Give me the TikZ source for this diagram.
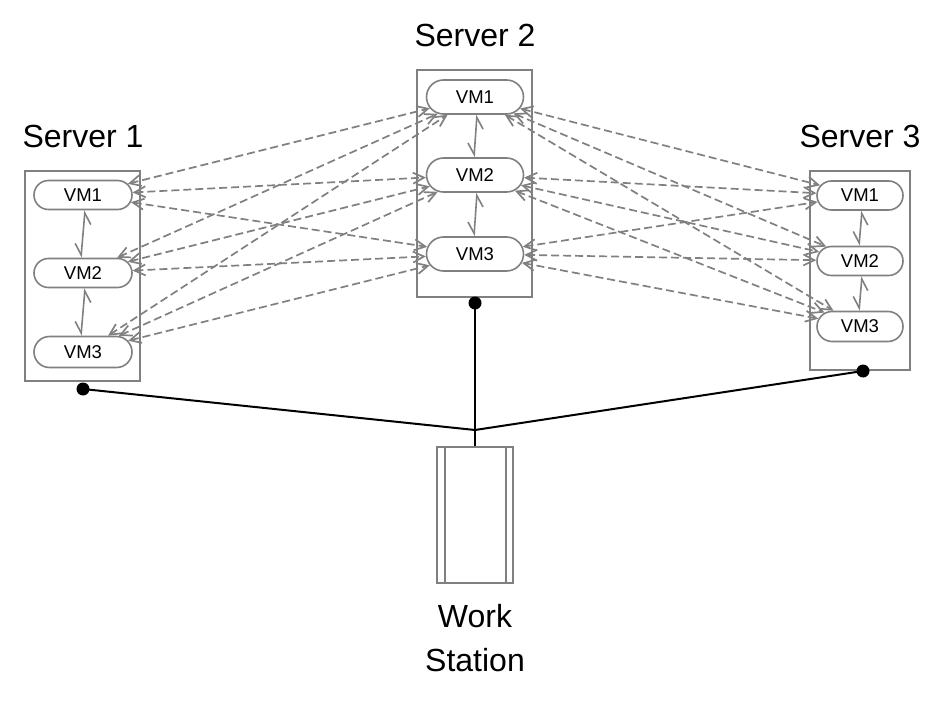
\documentclass[tikz,border=0pt]{standalone}
\usepackage{fontspec}
\setmainfont{Liberation Sans}
\usetikzlibrary{shapes.misc,arrows.meta,calc}
\definecolor{lgray}{HTML}{808080}
\tikzset{
  srv/.style={draw=lgray,line width=2pt,rectangle,inner sep=0pt},
  vm/.style={draw=lgray,line width=1.6pt,rounded rectangle,inner sep=0pt,font=\fontsize{18.5}{22}\selectfont},
  title/.style={font=\fontsize{32}{36}\selectfont,inner sep=0pt},
  link/.style={draw=lgray,line width=1.7pt,dash pattern=on 8pt off 4pt,
     {Straight Barb[length=11pt,width=11pt]}-{Straight Barb[length=11pt,width=11pt]}},
  inner/.style={draw=lgray,line width=1.6pt,
     {Straight Barb[harpoon,swap,length=11pt,width=14pt]}-{Straight Barb[harpoon,swap,length=11pt,width=14pt]}},
  dot/.style={circle,fill=black,inner sep=0pt,minimum size=13pt},
  wire/.style={draw=black,line width=2pt},
}
\begin{document}
\begin{tikzpicture}[x=1pt,y=-1pt]
\useasboundingbox (0,0) rectangle (944,727);
% servers
\node[srv,minimum width=115pt,minimum height=210pt] (s1) at (82.5,276) {};
\node[srv,minimum width=115pt,minimum height=227pt] (s2) at (474.5,183.5) {};
\node[srv,minimum width=100pt,minimum height=199pt] (s3) at (860,270.5) {};
% titles
\node[title] (t1) at (83,136) {Server 1};
\node[title] (t2) at (475,35) {Server 2};
\node[title] (t3) at (860,136) {Server 3};
% VMs
\node[vm,minimum width=98pt,minimum height=29pt] (a1) at (83,195) {VM1};
\node[vm,minimum width=98pt,minimum height=29pt] (a2) at (83,273) {VM2};
\node[vm,minimum width=98pt,minimum height=31pt] (a3) at (83,352) {VM3};
\node[vm,minimum width=97pt,minimum height=34pt] (b1) at (475,97) {VM1};
\node[vm,minimum width=97pt,minimum height=34pt] (b2) at (475,175) {VM2};
\node[vm,minimum width=97pt,minimum height=34pt] (b3) at (475,254) {VM3};
\node[vm,minimum width=86pt,minimum height=29pt] (c1) at (860,195.5) {VM1};
\node[vm,minimum width=86pt,minimum height=29pt] (c2) at (860,261) {VM2};
\node[vm,minimum width=86pt,minimum height=30pt] (c3) at (860,326.5) {VM3};
% dashed links
\foreach \i in {1,2,3}{
  \foreach \j in {1,2,3}{
    \draw[link] (a\i) -- (b\j);
    \draw[link] (b\i) -- (c\j);
  }
}
% inner links
\draw[inner] ([xshift=-2pt]a2.north) -- ([xshift=2pt]a1.south);
\draw[inner] ([xshift=-2pt]a3.north) -- ([xshift=2pt]a2.south);
\draw[inner] ([xshift=-1pt]b2.north) -- ([xshift=2pt]b1.south);
\draw[inner] ([xshift=-1pt]b3.north) -- ([xshift=2pt]b2.south);
\draw[inner] ([xshift=-1pt]c2.north) -- ([xshift=2pt]c1.south);
\draw[inner] ([xshift=-1pt]c3.north) -- ([xshift=2pt]c2.south);
% workstation
\node[draw=lgray,line width=2pt,minimum width=76pt,minimum height=136pt,inner sep=0pt,
  path picture={
    \draw[lgray,line width=2pt] ([xshift=8pt]path picture bounding box.north west) -- ([xshift=8pt]path picture bounding box.south west);
    \draw[lgray,line width=2pt] ([xshift=-7pt]path picture bounding box.north east) -- ([xshift=-7pt]path picture bounding box.south east);
  }] (ws) at (475,515) {};
\node[title,align=center] (wst) at (475,638) {Work\\[8pt]Station};
% dots and wires
\node[dot] (d1) at (83,389) {};
\node[dot] (d2) at (475,303) {};
\node[dot] (d3) at (863,371) {};
\coordinate (j) at (475,430);
\draw[wire] (d1.center) -- (j);
\draw[wire] (d3.center) -- (j);
\draw[wire] (d2.center) -- (ws.north);
\end{tikzpicture}
\end{document}
